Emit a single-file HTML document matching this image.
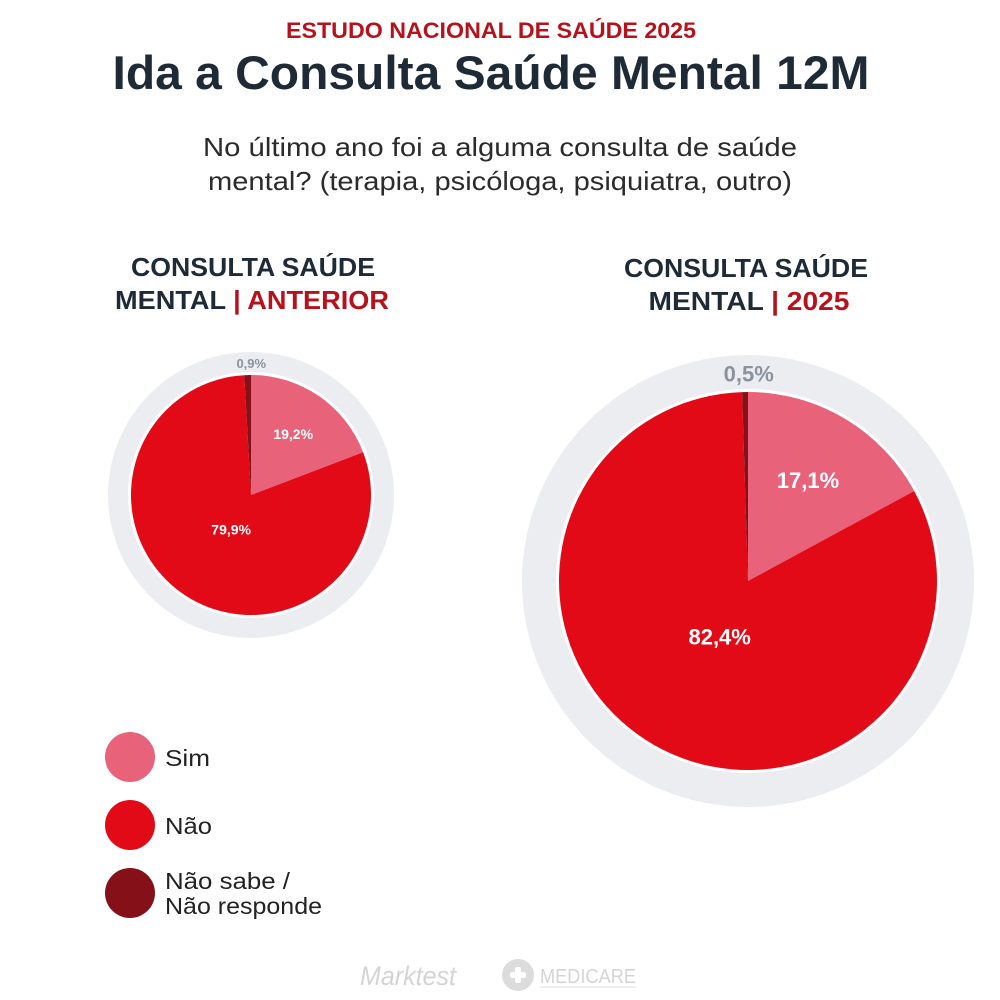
<!DOCTYPE html>
<html><head><meta charset="utf-8"><style>
html,body{margin:0;padding:0;background:#fff}
svg{display:block;font-family:"Liberation Sans",Arial,sans-serif}
</style></head><body>
<svg id="chart" width="1000" height="1000" viewBox="0 0 1000 1000">
<text x="491" y="38" text-anchor="middle" font-size="22" font-weight="bold" fill="#B5121B" textLength="410" lengthAdjust="spacingAndGlyphs">ESTUDO NACIONAL DE SAÚDE 2025</text>
<text x="491" y="89" text-anchor="middle" font-size="47" font-weight="bold" fill="#1F2A37" textLength="757" lengthAdjust="spacingAndGlyphs">Ida a Consulta Saúde Mental 12M</text>
<text x="500" y="156" text-anchor="middle" font-size="26" fill="#2b2b2b" textLength="594" lengthAdjust="spacingAndGlyphs">No último ano foi a alguma consulta de saúde</text>
<text x="500" y="190" text-anchor="middle" font-size="26" fill="#2b2b2b" textLength="584" lengthAdjust="spacingAndGlyphs">mental? (terapia, psicóloga, psiquiatra, outro)</text>

<text x="253" y="276" text-anchor="middle" font-size="26" font-weight="bold" fill="#1F2A37" textLength="244" lengthAdjust="spacingAndGlyphs">CONSULTA SAÚDE</text>
<text x="252" y="309" text-anchor="middle" font-size="26" font-weight="bold" fill="#1F2A37" textLength="274" lengthAdjust="spacingAndGlyphs">MENTAL <tspan fill="#B5121B">| ANTERIOR</tspan></text>
<text x="746" y="277" text-anchor="middle" font-size="26" font-weight="bold" fill="#1F2A37" textLength="244" lengthAdjust="spacingAndGlyphs">CONSULTA SAÚDE</text>
<text x="749" y="310" text-anchor="middle" font-size="26" font-weight="bold" fill="#1F2A37" textLength="201" lengthAdjust="spacingAndGlyphs">MENTAL <tspan fill="#B5121B">| 2025</tspan></text>

<g id="pies"></g>

<circle cx="130" cy="757" r="25" fill="#E8627A"/>
<text x="165" y="766" font-size="23" fill="#222" textLength="45" lengthAdjust="spacingAndGlyphs">Sim</text>
<circle cx="130" cy="825" r="25" fill="#E20A17"/>
<text x="165" y="834" font-size="23" fill="#222" textLength="47" lengthAdjust="spacingAndGlyphs">Não</text>
<circle cx="130" cy="893" r="25" fill="#851018"/>
<text x="165" y="889" font-size="23" fill="#222" textLength="125" lengthAdjust="spacingAndGlyphs">Não sabe /</text>
<text x="165" y="914" font-size="23" fill="#222" textLength="157" lengthAdjust="spacingAndGlyphs">Não responde</text>

<text x="360" y="985" font-size="27" font-style="italic" fill="#d4d4d4" textLength="96" lengthAdjust="spacingAndGlyphs">Marktest</text>
<g>
<circle cx="518" cy="975" r="16" fill="#dcdcdc"/>
<rect x="510" y="972" width="16" height="6" rx="2" fill="#fff"/>
<rect x="515" y="967" width="6" height="16" rx="2" fill="#fff"/>
<text x="540" y="983" font-size="20" fill="#d4d4d4" textLength="96" lengthAdjust="spacingAndGlyphs">MEDICARE</text>
<line x1="540" y1="987" x2="636" y2="987" stroke="#e0e0e0" stroke-width="1"/>
</g>
</svg>
<script>
const categories = ["Sim", "Não", "NS/NR"];
const valuesAnterior = [19.2, 79.9, 0.9];
const values2025 = [17.1, 82.4, 0.5];
const labelsAnterior = ["19,2%", "79,9%", "0,9%"];
const labels2025 = ["17,1%", "82,4%", "0,5%"];
const colors = ["#E8627A", "#E20A17", "#851018"];

const NS = "http://www.w3.org/2000/svg";
const g = document.getElementById("pies");
function pt(cx, cy, r, a) { return [cx + r * Math.sin(a), cy - r * Math.cos(a)]; }
function drawPie(name, cx, cy, rRing, rPie, vals, labels, fs, fsOut) {
  const ring = document.createElementNS(NS, "circle");
  ring.setAttribute("cx", cx); ring.setAttribute("cy", cy); ring.setAttribute("r", rRing);
  ring.setAttribute("fill", "#ECEDF1");
  
  
  g.appendChild(ring);
  const bg = document.createElementNS(NS, "circle");
  bg.setAttribute("cx", cx); bg.setAttribute("cy", cy); bg.setAttribute("r", rPie + 3);
  bg.setAttribute("fill", "#fff");
  g.appendChild(bg);
  const total = vals.reduce((a, b) => a + b, 0);
  let acc = 0;
  vals.forEach((v, i) => {
    const a0 = acc / total * 2 * Math.PI; acc += v;
    const a1 = acc / total * 2 * Math.PI;
    const p0 = pt(cx, cy, rPie, a0), p1 = pt(cx, cy, rPie, a1);
    const large = (a1 - a0) > Math.PI ? 1 : 0;
    const path = document.createElementNS(NS, "path");
    path.setAttribute("d", `M${cx},${cy} L${p0[0]},${p0[1]} A${rPie},${rPie} 0 ${large} 1 ${p1[0]},${p1[1]} Z`);
    path.setAttribute("fill", colors[i]);
    
    
    g.appendChild(path);
    const mid = (a0 + a1) / 2;
    const t = document.createElementNS(NS, "text");
    let lp, size = fs, fill = "#fff";
    if (i === 0) lp = pt(cx, cy, rPie * 0.62, mid);
    else if (i === 1) lp = pt(cx, cy, rPie * 0.33, mid - 0.05);
    else { lp = pt(cx, cy, (rRing + rPie) / 2, mid); size = fsOut; fill = "#8A939C"; lp[0] += 4; }
    t.setAttribute("x", lp[0]); t.setAttribute("y", lp[1] + size * 0.36);
    t.setAttribute("text-anchor", "middle"); t.setAttribute("font-size", size);
    t.setAttribute("font-weight", "bold"); t.setAttribute("fill", fill);
    t.textContent = labels[i];
    
    
    g.appendChild(t);
  });
}
drawPie("pie-anterior", 251, 495, 143, 120, valuesAnterior, labelsAnterior, 14, 13);
drawPie("pie-2025", 748, 581, 226, 189, values2025, labels2025, 22, 22);
</script>
</body></html>
